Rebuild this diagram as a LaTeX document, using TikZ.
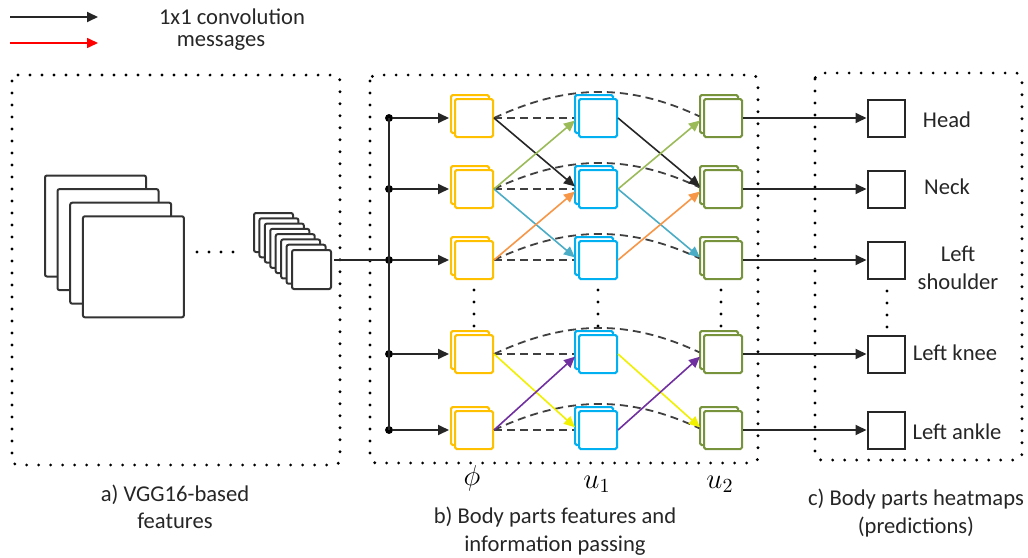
\documentclass[tikz,border=0pt]{standalone}
\usepackage{fontspec}
\setmainfont{Carlito}
\usetikzlibrary{arrows.meta, shadows}
\definecolor{fyel}{HTML}{FFC000}
\definecolor{fblu}{HTML}{00B0F0}
\definecolor{fgrn}{HTML}{77933C}
\definecolor{mgrn}{HTML}{9BBB59}
\definecolor{mcya}{HTML}{4BACC6}
\definecolor{mora}{HTML}{F79646}
\definecolor{myel}{HTML}{F0F000}
\definecolor{mpur}{HTML}{7030A0}
\definecolor{dgray}{HTML}{404040}
\tikzset{
  fmap/.style={draw=#1, fill=white, line width=1pt, minimum size=19pt, inner sep=0pt, rounded corners=0.8pt,
    copy shadow={shadow xshift=-2pt, shadow yshift=2pt, draw=#1, fill=white, line width=1pt}},
  fbig/.style={draw=black!80, fill=white, line width=1pt, minimum size=50.5pt, inner sep=0pt, rounded corners=1pt},
  fsmall/.style={draw=black!80, fill=white, line width=1pt, minimum size=19.5pt, inner sep=0pt, rounded corners=1pt},
  hmap/.style={draw=black!85, line width=1pt, minimum size=18.5pt, inner sep=0pt},
  jdot/.style={draw, shape=circle, fill=black, inner sep=0pt, minimum size=3.5pt},
  conv/.style={-{Triangle[length=5.5pt,width=5pt]}, line width=0.9pt, black!85},
  msg/.style={-{Triangle[length=5.5pt,width=5pt]}, line width=0.8pt, draw=#1, shorten >=2pt},
  skip/.style={dgray, line width=0.9pt, dash pattern=on 4pt off 2.5pt, shorten >=2pt},
  frame/.style={line width=1.6pt, dash pattern=on 0pt off 6pt, line cap=round, rounded corners=3pt},
  vdots/.style={line width=1.6pt, dash pattern=on 0pt off 6pt, line cap=round},
  lbl/.style={font=\fontsize{11.3}{13.8}\selectfont, text=black!85, align=center, inner sep=0pt},
  col/.style={font=\fontsize{14}{16}\selectfont, inner sep=0pt}
}
\begin{document}
\begin{tikzpicture}[x=0.5pt, y=-0.5pt]
  \useasboundingbox (0,0) rectangle (1028,557);
  % legend
  \coordinate (lg1) at (10,17); \coordinate (lg2) at (98,17);
  \coordinate (lg3) at (10,43); \coordinate (lg4) at (98,43);
  \draw[conv] (lg1) -- (lg2);
  \draw[msg=red, shorten >=0pt] (lg3) -- (lg4);
  \node[lbl] (lgconv) at (232,17) {1x1 convolution};
  \node[lbl] (lgmsg) at (221,43) {messages};
  % frames
  \draw[frame] (12,75) rectangle (340,465);
  \draw[frame] (370,75) rectangle (758,463);
  \draw[frame] (815,73) rectangle (1022,460);
  % a) VGG16 features
  \path (95.5,226) node[fbig] (vb1) {} (108,239.6) node[fbig] (vb2) {}
  (120.7,253.2) node[fbig] (vb3) {} (133.4,266.8) node[fbig] (vb4) {};
  \draw[vdots] (197,252) -- (234,252);
  \foreach \i in {0,...,7}
    \node[fsmall] (vs\i) at (273.5+5.43*\i, 232.5+5.29*\i) {};
  \coordinate (vggout) at (334,260);
  % b) body parts features
  \path (389,118) node[jdot] (j1) {} (389,189) node[jdot] (j2) {} (389,260) node[jdot] (j3) {}
  (389,354) node[jdot] (j4) {} (389,430) node[jdot] (j5) {};
  \draw[line width=0.9pt, black!85] (j1.center) -- (j5.center);
  \draw[line width=0.9pt, black!85] (vggout) -- (j3);
  \path (474,118) node[fmap=fyel] (phi1) {} (474,189) node[fmap=fyel] (phi2) {} (474,260) node[fmap=fyel] (phi3) {}
  (474,354) node[fmap=fyel] (phi4) {} (474,430) node[fmap=fyel] (phi5) {};
  \path (598,118) node[fmap=fblu] (ua1) {} (598,189) node[fmap=fblu] (ua2) {} (598,260) node[fmap=fblu] (ua3) {}
  (598,354) node[fmap=fblu] (ua4) {} (598,430) node[fmap=fblu] (ua5) {};
  \path (723,118) node[fmap=fgrn] (ub1) {} (723,189) node[fmap=fgrn] (ub2) {} (723,260) node[fmap=fgrn] (ub3) {}
  (723,354) node[fmap=fgrn] (ub4) {} (723,430) node[fmap=fgrn] (ub5) {};
  \draw[conv, shorten >=2.5pt] (j1) -- (phi1.west);
  \draw[conv, shorten >=2.5pt] (j2) -- (phi2.west);
  \draw[conv, shorten >=2.5pt] (j3) -- (phi3.west);
  \draw[conv, shorten >=2.5pt] (j4) -- (phi4.west);
  \draw[conv, shorten >=2.5pt] (j5) -- (phi5.west);
  \draw[vdots] (474,290) -- (474,327);
  \draw[vdots] (598,290) -- (598,327);
  \draw[vdots] (721,290) -- (721,327);
  % skip connections
  \draw[skip] (phi1.east) -- (ua1.west);
  \draw[skip] (phi2.east) -- (ua2.west);
  \draw[skip] (phi3.east) -- (ua3.west);
  \draw[skip] (phi4.east) -- (ua4.west);
  \draw[skip] (phi5.east) -- (ua5.west);
  \draw[skip] (phi1.east) to[bend left=25] (ub1.west);
  \draw[skip] (phi2.east) to[bend left=25] (ub2.west);
  \draw[skip] (phi3.east) to[bend left=25] (ub3.west);
  \draw[skip] (phi4.east) to[bend left=25] (ub4.west);
  \draw[skip] (phi5.east) to[bend left=25] (ub5.west);
  % messages
  \draw[msg=black!85] (phi1.east) -- (ua2.west);
  \draw[msg=mgrn] (phi2.east) -- (ua1.west);
  \draw[msg=mcya] (phi2.east) -- (ua3.west);
  \draw[msg=mora] (phi3.east) -- (ua2.west);
  \draw[msg=myel] (phi4.east) -- (ua5.west);
  \draw[msg=mpur] (phi5.east) -- (ua4.west);
  \draw[msg=black!85] (ua1.east) -- (ub2.west);
  \draw[msg=mgrn] (ua2.east) -- (ub1.west);
  \draw[msg=mcya] (ua2.east) -- (ub3.west);
  \draw[msg=mora] (ua3.east) -- (ub2.west);
  \draw[msg=myel] (ua4.east) -- (ub5.west);
  \draw[msg=mpur] (ua5.east) -- (ub4.west);
  \node[col] (lphi) at (472,478) {$\phi$};
  \node[col] (lu1) at (597,484) {$u_1$};
  \node[col] (lu2) at (720,484) {$u_2$};
  % c) heatmaps
  \path (886,118) node[hmap] (hm1) {} (886,189) node[hmap] (hm2) {} (886,260) node[hmap] (hm3) {}
  (886,354) node[hmap] (hm4) {} (886,430) node[hmap] (hm5) {};
  \draw[conv] (ub1) -- (hm1);
  \draw[conv] (ub2) -- (hm2);
  \draw[conv] (ub3) -- (hm3);
  \draw[conv] (ub4) -- (hm4);
  \draw[conv] (ub5) -- (hm5);
  \draw[vdots] (887,291) -- (887,327);
  \node[lbl] (thead) at (947,120) {Head};
  \node[lbl] (tneck) at (947,187) {Neck};
  \node[lbl] (tshld) at (958,268) {Left\\shoulder};
  \node[lbl] (tknee) at (955,353) {Left knee};
  \node[lbl] (tankl) at (957,432) {Left ankle};
  % captions
  \node[lbl] (capa) at (175,507) {a) VGG16-based\\features};
  \node[lbl] (capb) at (555,531) {b) Body parts features and\\information passing};
  \node[lbl] (capc) at (916,513) {c) Body parts heatmaps\\(predictions)};
\end{tikzpicture}
\end{document}
